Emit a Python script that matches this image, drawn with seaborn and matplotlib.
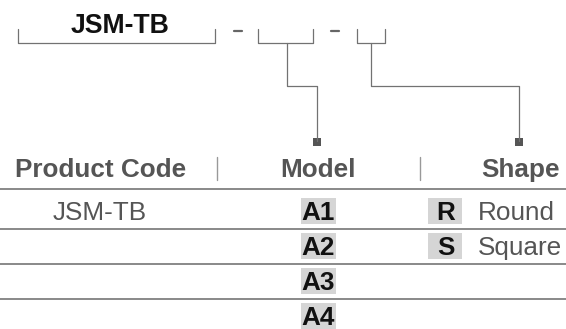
import matplotlib
matplotlib.use("Agg")
import matplotlib.pyplot as plt
import seaborn as sns
import pandas as pd
from matplotlib.patches import Rectangle

# table content
title_code = "JSM-TB"
headers = ["Product Code", "Model", "Shape"]
product_codes = ["JSM-TB"]
models = ["A1", "A2", "A3", "A4"]
shape_codes = ["R", "S"]
shape_names = ["Round", "Square"]

sns.set_theme(style="white")
plt.rcParams['font.family'] = ['Liberation Sans', 'DejaVu Sans']

line_col = "#727272"
text_gray = "#555555"
box_col = "#d5d5d5"
fs = 18.8

fig = plt.figure(figsize=(5.66, 3.29), dpi=100)
ax = fig.add_axes([0, 0, 1, 1])

# code line with brackets
ax.text(120, 33, title_code, ha="center", va="baseline", fontsize=19.2,
        fontweight="bold", color="#111111")
brackets = [(18, 215), (258, 313), (357, 385)]
for x0, x1 in brackets:
    ax.plot([x0, x0, x1, x1], [29, 42.5, 42.5, 29], color=line_col, lw=0.9)
for xd in [237.5, 335]:
    ax.plot([xd - 4, xd + 4], [31, 31], color="#666666", lw=1.6)

# leader lines down to the columns
ax.plot([287, 287, 317, 317], [42.5, 86, 86, 141], color=line_col, lw=0.9)
ax.plot([371, 371, 519, 519], [42.5, 86, 86, 141], color=line_col, lw=0.9)
ends = pd.DataFrame({"x": [317, 519], "y": [142, 142]})
sns.scatterplot(data=ends, x="x", y="y", marker="s", s=30, color="#555555",
                edgecolor="none", ax=ax, legend=False)
ax.set_xlim(0, 566)
ax.set_ylim(329, 0)
ax.axis("off")

# header
ax.text(15, 177, headers[0], ha="left", va="baseline", fontsize=fs,
        fontweight="bold", color=text_gray)
ax.text(318, 177, headers[1], ha="center", va="baseline", fontsize=fs,
        fontweight="bold", color=text_gray)
ax.text(560, 177, headers[2], ha="right", va="baseline", fontsize=fs,
        fontweight="bold", color=text_gray)
for xs in [217, 420]:
    ax.plot([xs, xs], [157, 180], color="#999999", lw=1.0)

# rules
for yr in [189, 228.5, 263.5, 298.5]:
    ax.plot([0, 566], [yr, yr], color="#6a6a6a", lw=1.1)

row_base = 220
row_h = 35

for i, code in enumerate(product_codes):
    ax.text(100, row_base + i * row_h, code, ha="center", va="baseline",
            fontsize=fs, color=text_gray)

for i, m in enumerate(models):
    yb = row_base + i * row_h
    ax.add_patch(Rectangle((301, yb - 22), 35, 26, fc=box_col, ec="none"))
    ax.text(318.5, yb, m, ha="center", va="baseline", fontsize=fs,
            fontweight="bold", color="#111111")

for i, (c, n) in enumerate(zip(shape_codes, shape_names)):
    yb = row_base + i * row_h
    ax.add_patch(Rectangle((428, yb - 22), 34, 26, fc=box_col, ec="none"))
    ax.text(445.5, yb, c, ha="center", va="baseline", fontsize=fs,
            fontweight="bold", color="#111111")
    ax.text(478, yb, n, ha="left", va="baseline", fontsize=fs,
            color=text_gray)

fig.savefig("out.png", dpi=100)
